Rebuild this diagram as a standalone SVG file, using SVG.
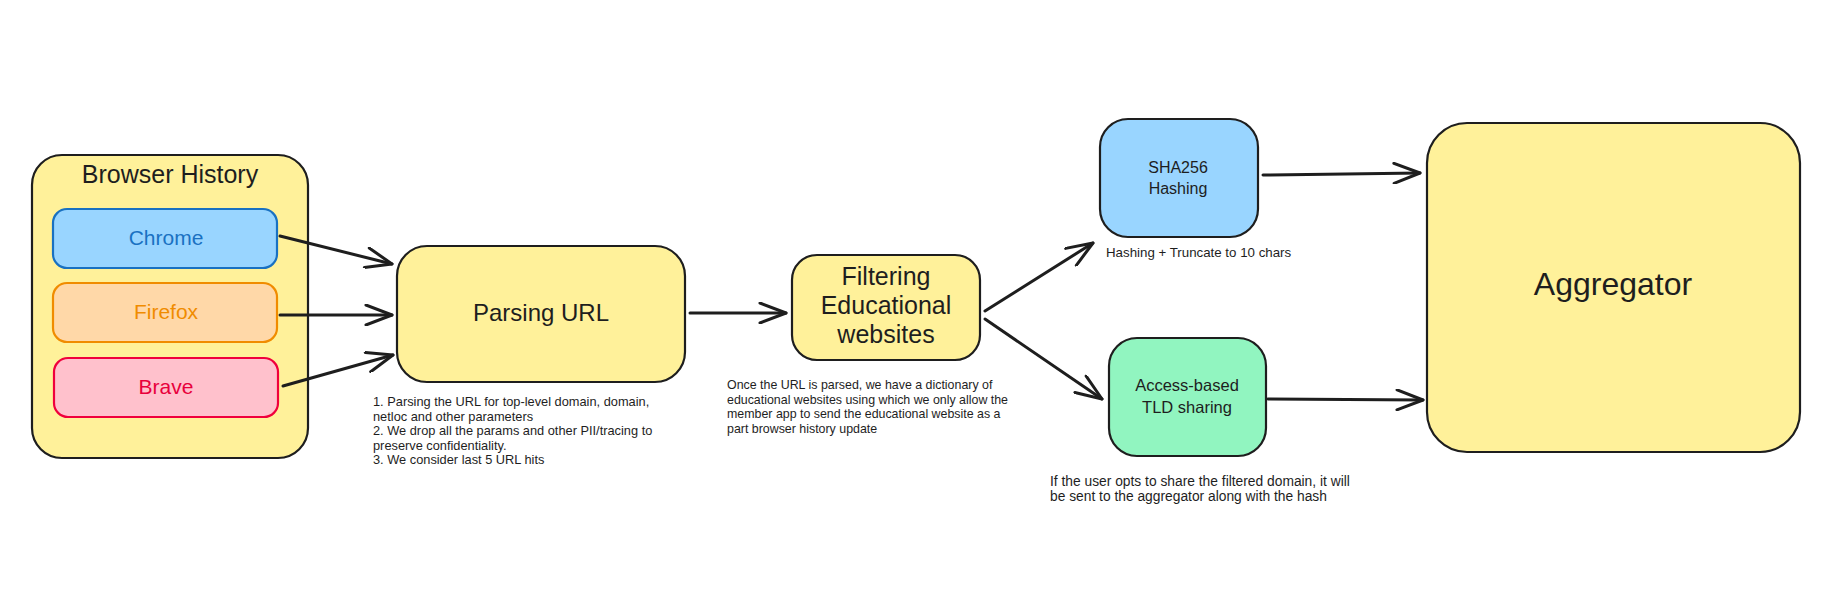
<svg xmlns="http://www.w3.org/2000/svg" width="1835" height="595" viewBox="0 0 1835 595">
  <defs>
    <marker id="arrow" viewBox="0 0 30 22" refX="28" refY="11" markerWidth="30" markerHeight="22" markerUnits="userSpaceOnUse" orient="auto">
      <path d="M2,1 L28,11 L2,21" fill="none" stroke="#1e1e1e" stroke-width="3" stroke-linecap="round" stroke-linejoin="round"/>
    </marker>
  </defs>
  <style>
    .box { stroke: #1e1e1e; stroke-width: 2.2; }
    .yellow { fill: #fff19a; }
    .label { font-family: "Liberation Sans", "Noto Sans", sans-serif; fill: #1e1e1e; text-anchor: middle; }
    .note { font-family: "Liberation Sans", "Noto Sans", sans-serif; fill: #1e1e1e; font-size: 12.8px; }
    .conn { stroke: #1e1e1e; stroke-width: 3; fill: none; stroke-linecap: round; marker-end: url(#arrow); }
  </style>
  <rect width="1835" height="595" fill="#ffffff"/>

  <g id="browser-history">
    <rect class="box yellow" x="32" y="155" width="276" height="303" rx="30"/>
    <text class="label" x="170" y="183" font-size="25">Browser History</text>
  </g>
  <g id="chrome">
    <rect x="53" y="209" width="224" height="59" rx="14" fill="#99d5ff" stroke="#1971c2" stroke-width="2.2"/>
    <text class="label" x="166" y="245" font-size="21" style="fill:#1971c2">Chrome</text>
  </g>
  <g id="firefox">
    <rect x="53" y="283" width="224" height="59" rx="14" fill="#ffd8a8" stroke="#f08c00" stroke-width="2.2"/>
    <text class="label" x="166" y="319" font-size="21" style="fill:#f08c00">Firefox</text>
  </g>
  <g id="brave">
    <rect x="54" y="358" width="224" height="59" rx="14" fill="#ffc1cc" stroke="#f0003c" stroke-width="2.2"/>
    <text class="label" x="166" y="394" font-size="21" style="fill:#e8003c">Brave</text>
  </g>

  <g id="parsing-url">
    <rect class="box yellow" x="397" y="246" width="288" height="136" rx="30"/>
    <text class="label" x="541" y="321" font-size="24">Parsing URL</text>
  </g>
  <g id="parsing-note">
    <text class="note" x="373" y="406">1. Parsing the URL for top-level domain, domain,</text>
    <text class="note" x="373" y="420.5">netloc and other parameters</text>
    <text class="note" x="373" y="435">2. We drop all the params and other PII/tracing to</text>
    <text class="note" x="373" y="449.5">preserve confidentiality.</text>
    <text class="note" x="373" y="464">3. We consider last 5 URL hits</text>
  </g>

  <g id="filtering">
    <rect class="box yellow" x="792" y="255" width="188" height="105" rx="25"/>
    <text class="label" x="886" y="285" font-size="25">Filtering</text>
    <text class="label" x="886" y="314" font-size="25">Educational</text>
    <text class="label" x="886" y="343" font-size="25">websites</text>
  </g>
  <g id="filtering-note" style="font-size:12.4px">
    <text class="note" x="727" y="389" style="font-size:12.4px">Once the URL is parsed, we have a dictionary of</text>
    <text class="note" x="727" y="403.5" style="font-size:12.4px">educational websites using which we only allow the</text>
    <text class="note" x="727" y="418" style="font-size:12.4px">member app to send the educational website as a</text>
    <text class="note" x="727" y="432.5" style="font-size:12.4px">part browser history update</text>
  </g>

  <g id="sha256">
    <rect class="box" x="1100" y="119" width="158" height="118" rx="28" fill="#99d5ff"/>
    <text class="label" x="1178" y="173" font-size="16">SHA256</text>
    <text class="label" x="1178" y="194" font-size="16">Hashing</text>
  </g>
  <g id="sha256-note">
    <text class="note" x="1106" y="257" style="font-size:13.3px">Hashing + Truncate to 10 chars</text>
  </g>

  <g id="access-tld">
    <rect class="box" x="1109" y="338" width="157" height="118" rx="28" fill="#91f5c0"/>
    <text class="label" x="1187" y="391" font-size="16.5">Access-based</text>
    <text class="label" x="1187" y="413" font-size="16.5">TLD sharing</text>
  </g>
  <g id="access-note">
    <text class="note" x="1050" y="486" style="font-size:13.8px">If the user opts to share the filtered domain, it will</text>
    <text class="note" x="1050" y="500.5" style="font-size:13.8px">be sent to the aggregator along with the hash</text>
  </g>

  <g id="aggregator">
    <rect class="box yellow" x="1427" y="123" width="373" height="329" rx="40"/>
    <text class="label" x="1613" y="295" font-size="32">Aggregator</text>
  </g>

  <g id="connectors">
    <line class="conn" x1="280" y1="236" x2="392" y2="264"/>
    <line class="conn" x1="280" y1="315" x2="392" y2="315"/>
    <line class="conn" x1="283" y1="386" x2="393" y2="355"/>
    <line class="conn" x1="690" y1="313" x2="786" y2="313"/>
    <line class="conn" x1="985" y1="311" x2="1093" y2="243"/>
    <line class="conn" x1="985" y1="319" x2="1102" y2="399"/>
    <line class="conn" x1="1263" y1="175" x2="1420" y2="173"/>
    <line class="conn" x1="1268" y1="399" x2="1423" y2="400"/>
  </g>
</svg>
